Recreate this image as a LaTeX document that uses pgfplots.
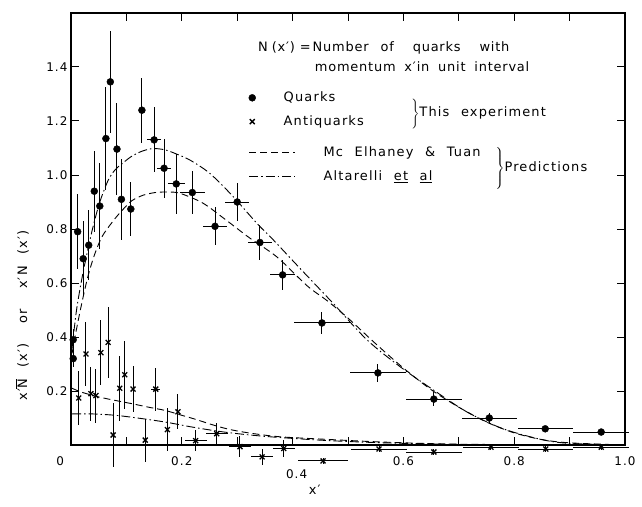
\documentclass[border=0pt]{standalone}
\usepackage{fontspec}
\setmainfont{DejaVu Sans}[LetterSpace=9,WordSpace=2.2]
\newfontfamily\hdrfont{DejaVu Sans}[LetterSpace=6,WordSpace=1.8]
\usepackage{pgfplots}
\pgfplotsset{compat=1.18}
\usepackage{pgfplotstable}
\pgfplotsset{
  markleg/.style={legend image code/.code={\draw[mark repeat=2,mark phase=2,##1] plot coordinates {(0bp,0bp) (36bp,0bp) (46bp,0bp)};}},
  lineleg/.style={legend image code/.code={\draw[##1] (0bp,0bp) -- (46bp,0bp);}},
  mylegend/.style={legend style={draw=none, fill=none, at={#1}, anchor=north west,
    row sep=8.5pt, inner sep=0pt, nodes={inner sep=2pt},
    /tikz/every odd column/.append style={column sep=26bp}},
    legend cell align=left},
}

\pgfplotstableread{
x y ex ey
0.004 0.39 0 0.04
0.004 0.32 0 0.03
0.012 0.79 0 0.14
0.022 0.69 0 0.14
0.032 0.74 0 0.13
0.042 0.94 0 0.15
0.052 0.885 0 0.16
0.063 1.135 0 0.19
0.071 1.345 0 0.19
0.083 1.096 0 0.17
0.091 0.91 0 0.15
0.108 0.874 0 0.10
0.128 1.24 0 0.12
0.150 1.13 0.012 0.12
0.168 1.025 0.012 0.11
0.190 0.967 0.015 0.11
0.219 0.935 0.022 0.08
0.260 0.81 0.022 0.07
0.300 0.90 0.022 0.07
0.341 0.75 0.021 0.065
0.382 0.63 0.022 0.055
0.453 0.452 0.05 0.04
0.554 0.267 0.05 0.033
0.655 0.17 0.05 0.025
0.755 0.10 0.05 0.02
0.856 0.06 0.05 0.01
0.957 0.048 0.05 0.01
}\quarks

\pgfplotstableread{
x y ex ey
0.014 0.174 0 0.10
0.027 0.337 0 0.12
0.036 0.19 0 0.10
0.045 0.183 0 0.10
0.054 0.342 0 0.12
0.067 0.38 0 0.13
0.076 0.037 0 0.12
0.088 0.21 0 0.12
0.097 0.26 0 0.125
0.112 0.207 0 0.085
0.134 0.018 0 0.08
0.153 0.207 0.008 0.08
0.174 0.057 0 0.08
0.193 0.123 0 0.065
0.225 0.016 0.02 0.04
0.263 0.042 0.02 0.04
0.305 -0.006 0.02 0.04
0.345 -0.044 0.02 0.03
0.384 -0.013 0.02 0.03
0.455 -0.059 0.045 0.01
0.556 -0.015 0.05 0.01
0.655 -0.026 0.05 0.01
0.758 -0.008 0.05 0.01
0.857 -0.015 0.05 0.01
0.957 -0.008 0.05 0.01
}\antiquarks

\begin{document}
\begin{tikzpicture}[font=\fontsize{13}{15}\selectfont]
\begin{axis}[name=ax,
  scale only axis, width=554bp, height=432bp,
  xmin=0, xmax=1, ymin=0, ymax=1.6, clip=false,
  ticklabel style={font=\fontsize{12}{14}\selectfont},
  xticklabel style={yshift=-8pt},
  xtick={0,0.2,0.6,0.8,1.0},
  xticklabels={\makebox[0pt][r]{0\hspace{7pt}},0.2,0.6,0.8,1.0},
  extra x ticks={0.4}, extra x tick labels={0.4},
  extra x tick style={xticklabel style={yshift=-13pt, xshift=4pt}},
  minor xtick={0.1,0.3,0.5,0.7,0.9},
  ytick={0.2,0.4,0.6,0.8,1.0,1.2,1.4},
  yticklabels={0.2,0.4,0.6,0.8,1.0,1.2,1.4},
  tick align=inside, major tick length=8pt, minor tick length=8pt,
  tick style={line width=1pt, black},
  axis line style={line width=1.2pt},
  mylegend={(axis cs:0.3205,1.315)},
]
\addplot[only marks, mark=*, mark size=3.5pt, black, markleg,
  error bars/.cd, x dir=both, x explicit, y dir=both, y explicit, error mark=none,
  error bar style={line width=1pt}]
  table[x=x,y=y,x error=ex,y error=ey]{\quarks};
\addlegendentry{Quarks}
\addplot[only marks, mark=x, mark size=3.5pt, black, line width=1.3pt, markleg,
  error bars/.cd, x dir=both, x explicit, y dir=both, y explicit, error mark=none,
  error bar style={line width=1pt}]
  table[x=x,y=y,x error=ex,y error=ey]{\antiquarks};
\addlegendentry{Antiquarks}
\addplot[black, line width=0.9pt, smooth, dash pattern=on 7pt off 4pt, forget plot]
  coordinates {(0.002,0.34) (0.01,0.43) (0.02,0.53) (0.03,0.62) (0.04,0.69) (0.05,0.745) (0.06,0.785) (0.08,0.84) (0.095,0.875) (0.11,0.905) (0.13,0.925) (0.152,0.935) (0.175,0.937) (0.197,0.932) (0.238,0.896) (0.28,0.833) (0.323,0.766) (0.372,0.696) (0.426,0.59) (0.462,0.535) (0.5,0.47) (0.55,0.375) (0.6,0.285) (0.65,0.205) (0.7,0.14) (0.75,0.085) (0.8,0.045) (0.85,0.02) (0.9,0.008) (1.0,0)};
\addplot[black, line width=0.9pt, smooth, dash pattern=on 9pt off 3pt on 1.5pt off 3pt, forget plot]
  coordinates {(0.002,0.36) (0.01,0.5) (0.02,0.62) (0.03,0.72) (0.04,0.81) (0.052,0.9) (0.067,0.98) (0.08,1.02) (0.097,1.05) (0.11,1.07) (0.128,1.088) (0.148,1.098) (0.17,1.093) (0.19,1.078) (0.215,1.055) (0.25,1.007) (0.29,0.926) (0.336,0.82) (0.365,0.76) (0.413,0.655) (0.473,0.525) (0.534,0.39) (0.594,0.29) (0.654,0.204) (0.715,0.122) (0.78,0.06) (0.85,0.02) (0.9,0.006) (1.0,0)};
\addplot[black, line width=0.9pt, smooth, dash pattern=on 7pt off 4pt, forget plot]
  coordinates {(0.002,0.21) (0.02,0.195) (0.05,0.178) (0.08,0.165) (0.11,0.153) (0.14,0.14) (0.17,0.128) (0.2,0.11) (0.225,0.095) (0.26,0.072) (0.29,0.056) (0.33,0.042) (0.38,0.03) (0.47,0.02) (0.55,0.012) (0.65,0.005) (0.75,0.002) (1.0,0)};
\addplot[black, line width=0.9pt, smooth, dash pattern=on 9pt off 3pt on 1.5pt off 3pt, forget plot]
  coordinates {(0.002,0.115) (0.04,0.115) (0.08,0.11) (0.12,0.1) (0.17,0.085) (0.22,0.066) (0.28,0.047) (0.35,0.032) (0.45,0.018) (0.55,0.009) (0.65,0.004) (0.75,0.001) (1.0,0)};

\node[anchor=west, inner sep=0pt] at (axis cs:0.3375,1.470) {\hdrfont N\hspace{4pt}(x′)\hspace{5pt}=\hspace{2pt}Number\hspace{12pt}of\hspace{19pt}quarks\hspace{19pt}with};
\node[anchor=west, inner sep=0pt] at (axis cs:0.440,1.400) {\hdrfont momentum x′\hspace{1pt}in unit interval};
\node[anchor=west, inner sep=0pt] at (axis cs:0.612,1.226) {$\left.\vcenter{\hrule height 28pt width 0pt}\right\}$This experiment};
\node[anchor=west, inner sep=0pt] at (axis cs:0.764,1.025) {$\left.\vcenter{\hrule height 40pt width 0pt}\right\}$Predictions};
\node[rotate=90] at (rel axis cs:-0.088,0.30) {x′$\overline{\mbox{N}}$ (x′)\hspace{20pt}or\hspace{20pt}x′N (x′)};
\node at (rel axis cs:0.44,0) [yshift=-45bp] {x′};
\end{axis}
\begin{axis}[
  scale only axis, width=554bp, height=432bp,
  xmin=0, xmax=1, ymin=0, ymax=1.6, hide axis,
  mylegend={(axis cs:0.3205,1.112)},
]
\addlegendimage{black, line width=0.9pt, dash pattern=on 7pt off 4pt, lineleg}
\addlegendentry{Mc Elhaney \& Tuan}
\addlegendimage{black, line width=0.9pt, dash pattern=on 9pt off 3pt on 1.5pt off 3pt, lineleg}
\addlegendentry{Altarelli \underline{et} \underline{al}}
\end{axis}
\pgfresetboundingbox
\path[use as bounding box] ([xshift=-71bp,yshift=-62bp]ax.south west) rectangle ([xshift=17bp,yshift=13bp]ax.north east);
\end{tikzpicture}
\end{document}
